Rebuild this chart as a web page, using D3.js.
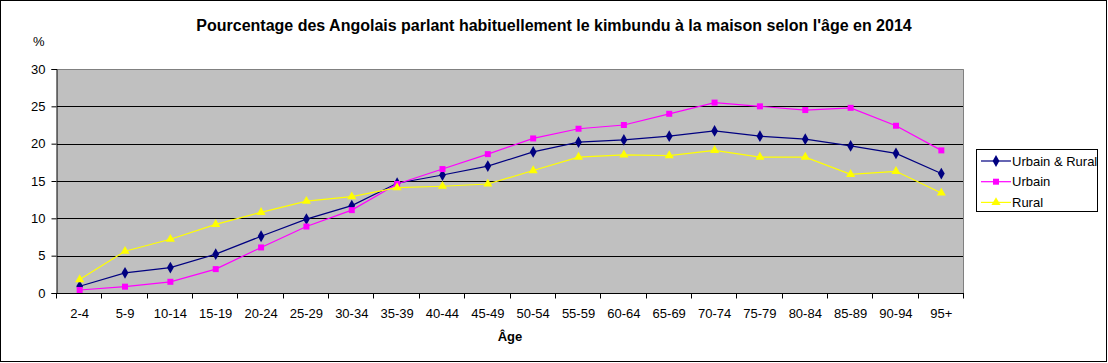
<!DOCTYPE html>
<html>
<head>
<meta charset="utf-8">
<script src="https://cdn.jsdelivr.net/npm/d3@7"></script>
<style>
body{margin:0;background:#fff;}
svg{display:block;font-family:"Liberation Sans",Arial,sans-serif;}
</style>
</head>
<body>
<svg width="1108" height="363"></svg>
<script>
var categories = ["2-4","5-9","10-14","15-19","20-24","25-29","30-34","35-39","40-44","45-49","50-54","55-59","60-64","65-69","70-74","75-79","80-84","85-89","90-94","95+"];
var urbainRural = [0.9,2.7,3.4,5.2,7.6,9.9,11.7,14.7,15.8,17.0,18.9,20.2,20.5,21.0,21.7,21.0,20.6,19.7,18.7,16.0];
var urbain = [0.4,0.85,1.5,3.2,6.1,8.9,11.1,14.6,16.6,18.6,20.7,22.0,22.5,24.0,25.5,25.0,24.5,24.8,22.4,19.1];
var rural = [1.8,5.6,7.2,9.2,10.8,12.3,12.9,14.1,14.3,14.6,16.4,18.2,18.5,18.4,19.1,18.2,18.2,15.9,16.3,13.4];
var yTicks = [0,5,10,15,20,25,30];
var seriesNames = ["Urbain & Rural","Urbain","Rural"];

var series = [
	{name:seriesNames[0], values:urbainRural, color:"#000080", symbol:d3.symbolDiamond, size:40},
	{name:seriesNames[1], values:urbain, color:"#FF00FF", symbol:d3.symbolSquare, size:36},
	{name:seriesNames[2], values:rural, color:"#FFFF00", symbol:d3.symbolTriangle, size:36}
];

var svg = d3.select("svg");
var marge = {top:69,left:57,right:964,bottom:293};

// cadre extérieur
svg.append("rect").attr("x",0.5).attr("y",0.5).attr("width",1106).attr("height",361)
	.attr("fill","#fff").attr("stroke","#000");

var xScale = d3.scaleBand().domain(categories).range([marge.left,marge.right]);
var yScale = d3.scaleLinear().domain([0,30]).range([marge.bottom,marge.top]);

// fond du graphique
svg.append("rect").attr("x",marge.left).attr("y",marge.top)
	.attr("width",marge.right-marge.left).attr("height",marge.bottom-marge.top)
	.attr("fill","#C0C0C0");

// quadrillage
svg.selectAll(".grid").data(yTicks.filter(function(d){return d>0 && d<30;}))
	.enter().append("line")
	.attr("x1",marge.left).attr("x2",marge.right)
	.attr("y1",function(d){return Math.round(yScale(d))+0.5;})
	.attr("y2",function(d){return Math.round(yScale(d))+0.5;})
	.attr("stroke","#000");

// bordure haut et droite
svg.append("path")
	.attr("d","M"+marge.left+","+(marge.top+0.5)+"H"+(marge.right-0.5)+"V"+marge.bottom)
	.attr("fill","none").attr("stroke","#808080");

// axe Y
var yAxis = d3.axisLeft(yScale).tickValues(yTicks).tickSize(5).tickPadding(6);
var gy = svg.append("g").attr("transform","translate("+(marge.left-0.5)+",0)").call(yAxis);
gy.select(".domain").attr("stroke","#000");
gy.selectAll("text").attr("font-size","13px").attr("fill","#000");

// axe X
var gx = svg.append("g").attr("transform","translate(0,"+(marge.bottom+0.5)+")");
gx.append("line").attr("x1",marge.left-0.5).attr("x2",marge.right).attr("stroke","#000");
var bounds = categories.map(function(c){return xScale(c);}).concat([marge.right]);
gx.selectAll(".tk").data(bounds).enter().append("line")
	.attr("x1",function(d){return Math.round(d)-0.5;})
	.attr("x2",function(d){return Math.round(d)-0.5;})
	.attr("y1",0).attr("y2",5).attr("stroke","#000");
gx.selectAll(".lbl").data(categories).enter().append("text")
	.attr("x",function(d){return xScale(d)+xScale.bandwidth()/2;})
	.attr("y",24)
	.attr("text-anchor","middle").attr("font-size","13px")
	.text(function(d){return d;});

// séries
var line = d3.line()
	.x(function(d,i){return xScale(categories[i])+xScale.bandwidth()/2;})
	.y(function(d){return yScale(d);});

series.forEach(function(s){
	svg.append("path").attr("d",line(s.values))
		.attr("fill","none").attr("stroke",s.color).attr("stroke-width",1.2);
	svg.selectAll(null).data(s.values).enter().append("path")
		.attr("transform",function(d,i){
			return "translate("+(xScale(categories[i])+xScale.bandwidth()/2)+","+yScale(d)+")";
		})
		.attr("d",d3.symbol().type(s.symbol).size(s.size))
		.attr("fill",s.color);
});

// titres
svg.append("text").attr("x",554).attr("y",31).attr("text-anchor","middle")
	.attr("font-size","16px").attr("font-weight","bold")
	.text("Pourcentage des Angolais parlant habituellement le kimbundu à la maison selon l'âge en 2014");
svg.append("text").attr("x",33).attr("y",46).attr("font-size","13px").text("%");
svg.append("text").attr("x",510).attr("y",341).attr("text-anchor","middle")
	.attr("font-size","13px").attr("font-weight","bold").text("Âge");

// légende
var lg = svg.append("g");
lg.append("rect").attr("x",976.5).attr("y",149.5).attr("width",121).attr("height",62)
	.attr("fill","#fff").attr("stroke","#000");
series.forEach(function(s,i){
	var y = 161+i*20.7;
	lg.append("line").attr("x1",981).attr("x2",1011).attr("y1",y).attr("y2",y)
		.attr("stroke",s.color).attr("stroke-width",1.2);
	lg.append("path").attr("transform","translate(996,"+y+")")
		.attr("d",d3.symbol().type(s.symbol).size(s.size)).attr("fill",s.color);
	lg.append("text").attr("x",1012).attr("y",y+4.5).attr("font-size","13px").text(s.name);
});
</script>
</body>
</html>
